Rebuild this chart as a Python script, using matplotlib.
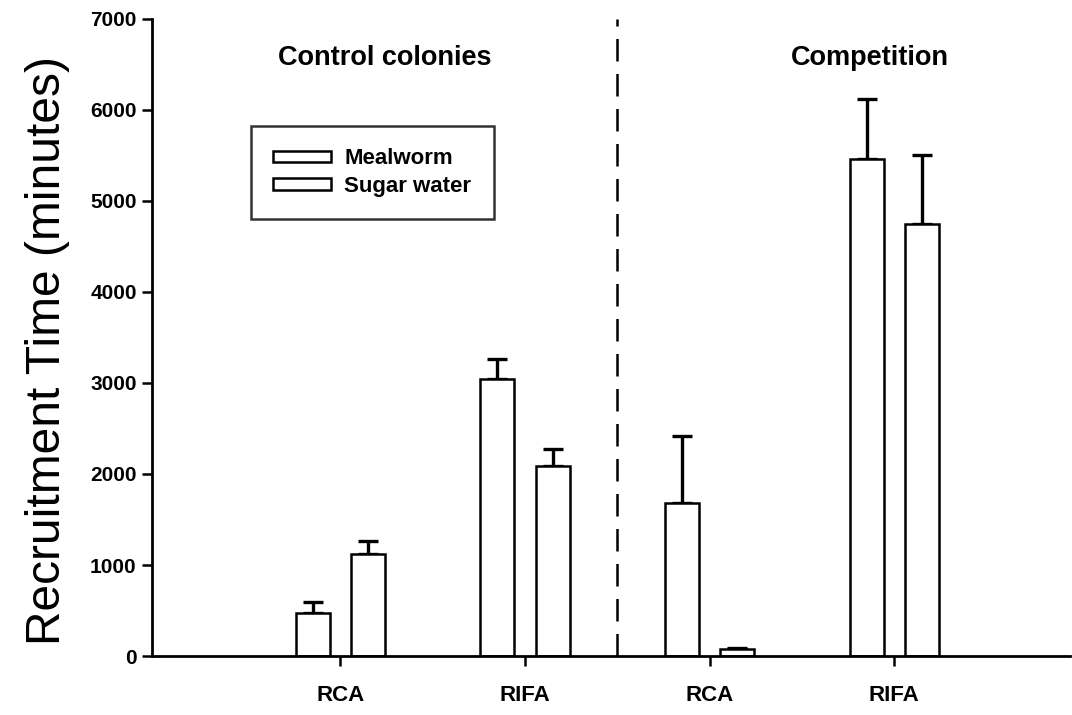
import matplotlib
matplotlib.use("Agg")
import matplotlib.pyplot as plt
import numpy as np

plt.rcParams['font.family'] = ['Liberation Sans', 'DejaVu Sans']

categories = ["RCA", "RIFA", "RCA", "RIFA"]
groups = ["Control colonies", "Competition"]
mealworm = [472, 3044, 1681, 5462]
mealworm_err = [121, 220, 737, 659]
sugar = [1121, 2088, 77, 4747]
sugar_err = [143, 187, 11, 758]
y_ticks = [0, 1000, 2000, 3000, 4000, 5000, 6000, 7000]

fig = plt.figure(figsize=(10.72, 7.15), dpi=100)
ax = fig.add_axes([0.1418, 0.0825, 0.856, 0.891])

x = np.arange(1, len(categories) + 1)
off = 0.15
w = 0.184
lw = 1.8
ax.bar(x - off, mealworm, width=w, color='white', edgecolor='black', linewidth=lw,
       label='Mealworm', zorder=2)
ax.bar(x + off, sugar, width=w, color='white', edgecolor='black', linewidth=lw,
       label='Sugar water', zorder=2)
ax.errorbar(x - off, mealworm, yerr=[np.zeros(4), mealworm_err], fmt='none',
            ecolor='black', elinewidth=2.4, capsize=7.2, capthick=2.4, zorder=1)
ax.errorbar(x + off, sugar, yerr=[np.zeros(4), sugar_err], fmt='none',
            ecolor='black', elinewidth=2.4, capsize=7.2, capthick=2.4, zorder=1)

ax.axvline(2.5, color='black', linewidth=1.8, linestyle=(0, (9, 5)), zorder=0)

ax.set_xlim(-0.02, 4.95)
ax.set_ylim(0, 7000)
ax.set_yticks(y_ticks)
ax.set_yticklabels([str(t) for t in y_ticks], fontweight='bold', fontsize=15)
ax.set_xticks(x)
ax.set_xticklabels(categories, fontsize=16, fontweight='bold')
ax.tick_params(axis='both', direction='out', length=7, width=1.8)
ax.tick_params(axis='x', pad=14)
ax.tick_params(axis='y', pad=4)
for s in ['top', 'right']:
    ax.spines[s].set_visible(False)
for s in ['left', 'bottom']:
    ax.spines[s].set_linewidth(2.0)

ax.set_ylabel('Recruitment Time (minutes)', fontsize=34.5)
ax.yaxis.set_label_coords(-0.089, 0.48)

ax.text(1.24, 6570, groups[0], ha='center', va='center', fontsize=19.5, fontweight='bold')
ax.text(3.87, 6570, groups[1], ha='center', va='center', fontsize=19.5, fontweight='bold')

leg = ax.legend(loc='upper left', bbox_to_anchor=(0.108, 0.832),
                prop={'size': 16, 'weight': 'bold'},
                frameon=True, fancybox=False, edgecolor='black', handlelength=2.6,
                handleheight=0.42, borderpad=1.0, labelspacing=0.3, handletextpad=0.6,
                borderaxespad=0)
leg.get_frame().set_linewidth(1.8)

fig.savefig('out.png', dpi=100, facecolor='white')
